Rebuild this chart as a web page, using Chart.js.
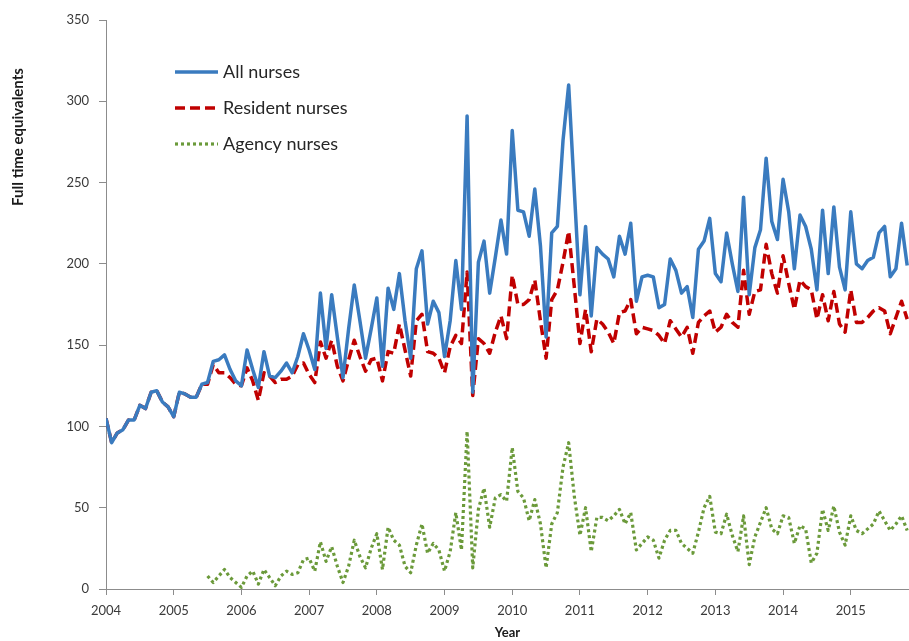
<!DOCTYPE html>
<html>
<head>
<meta charset="utf-8">
<script src="https://cdn.jsdelivr.net/npm/chart.js@4/dist/chart.umd.min.js"></script>
<style>
  html, body { margin: 0; padding: 0; background: #ffffff; }
  #wrap { width: 909px; height: 641px; position: relative; }
</style>
</head>
<body>
<div id="wrap"><canvas id="c" width="909" height="641"></canvas></div>
<script>
// ---- Data (monthly, starting January 2004) ----
const startYear = 2004;
const yearTicks = [2004, 2005, 2006, 2007, 2008, 2009, 2010, 2011, 2012, 2013, 2014, 2015];
const seriesNames = ["All nurses", "Resident nurses", "Agency nurses"];

const allNurses = [
  105, 90, 96, 98, 104, 104, 113, 111, 121, 122, 115, 112,   // 2004
  106, 121, 120, 118, 118, 126, 127, 140, 141, 144, 135, 128, // 2005
  125, 147, 135, 124, 146, 131, 130, 134, 139, 133, 143, 157, // 2006
  147, 135, 182, 148, 181, 155, 130, 160, 187, 165, 142, 160, // 2007
  179, 137, 185, 172, 194, 165, 142, 197, 208, 163, 177, 170, // 2008
  143, 165, 202, 172, 291, 121, 201, 214, 182, 204, 227, 206, // 2009
  282, 233, 232, 217, 246, 211, 155, 219, 223, 276, 310, 245, // 2010
  181, 223, 168, 210, 206, 203, 192, 217, 206, 225, 177, 192, // 2011
  193, 192, 173, 175, 203, 196, 182, 186, 167, 209, 214, 228, // 2012
  194, 189, 219, 200, 183, 241, 181, 210, 221, 265, 226, 215, // 2013
  252, 232, 197, 230, 223, 209, 184, 233, 194, 235, 198, 184, // 2014
  232, 200, 197, 202, 204, 219, 223, 192, 197, 225, 199       // 2015
];

const residentNurses = [
  105, 90, 96, 98, 104, 104, 113, 111, 121, 122, 115, 112,   // 2004
  106, 121, 120, 118, 118, 126, 126, 138, 133, 133, 130, 126, // 2005
  125, 136, 128, 116, 133, 131, 127, 129, 129, 131, 138, 139, // 2006
  132, 127, 152, 142, 153, 137, 128, 141, 153, 143, 134, 141, // 2007
  142, 128, 146, 145, 163, 147, 131, 165, 169, 146, 145, 142, // 2008
  133, 149, 156, 151, 195, 119, 154, 151, 145, 158, 168, 154, // 2009
  193, 175, 175, 178, 190, 165, 142, 178, 184, 201, 220, 186, // 2010
  151, 172, 146, 166, 163, 158, 151, 170, 171, 178, 157, 161, // 2011
  160, 159, 156, 151, 165, 160, 155, 161, 145, 164, 168, 171, // 2012
  158, 161, 169, 164, 161, 196, 169, 183, 184, 212, 194, 182, // 2013
  205, 188, 172, 190, 186, 184, 166, 181, 165, 183, 163, 158, // 2014
  184, 164, 164, 167, 171, 173, 171, 157, 167, 177, 166       // 2015
];

const agencyNurses = [
  null, null, null, null, null, null, null, null, null, null, null, null, // 2004
  null, null, null, null, null, null, 8, 4, 8, 12, 7, 4,                  // 2005
  1, 8, 11, 3, 12, 7, 2, 8, 11, 9, 10, 18,     // 2006
  19, 11, 29, 17, 26, 14, 4, 14, 30, 20, 13, 25, // 2007
  34, 12, 38, 30, 27, 14, 10, 27, 40, 22, 28, 24, // 2008
  11, 23, 47, 24, 97, 13, 49, 62, 38, 56, 58, 54, // 2009
  87, 60, 56, 42, 55, 40, 13, 40, 47, 75, 90, 57, // 2010
  33, 50, 23, 44, 44, 42, 45, 49, 40, 47, 24, 28, // 2011
  32, 30, 19, 30, 36, 36, 28, 25, 22, 35, 50, 57, // 2012
  35, 34, 46, 33, 23, 45, 15, 32, 41, 50, 37, 34, // 2013
  45, 44, 28, 39, 37, 16, 22, 49, 36, 51, 35, 27, // 2014
  45, 36, 34, 37, 40, 48, 42, 36, 40, 45, 36      // 2015
];

// ---- Build library structures ----
function toPoints(arr) {
  return arr.map((v, i) => ({ x: startYear + i / 12, y: v }));
}

const styles = [
  { color: "#3a7bbf", width: 3.5, dash: [] },
  { color: "#c00000", width: 3.5, dash: [10, 5] },
  { color: "#6b9a3a", width: 3.2, dash: [3, 3] }
];
const seriesData = [allNurses, residentNurses, agencyNurses];

const datasets = seriesData.map((arr, k) => ({
  label: seriesNames[k],
  data: toPoints(arr),
  borderColor: styles[k].color,
  backgroundColor: styles[k].color,
  borderWidth: styles[k].width,
  borderDash: styles[k].dash,
  borderJoinStyle: "round",
  pointRadius: 0,
  pointHoverRadius: 0,
  tension: 0,
  fill: false,
  spanGaps: false,
  order: k
}));

const FONT = "Lato, 'Open Sans', 'Liberation Sans', sans-serif";
const AXIS_COLOR = "#8c8c8c";
const TEXT_COLOR = "#3a3a3a";

const legendPlugin = {
  id: "insideLegend",
  afterDatasetsDraw(chart) {
    const ctx = chart.ctx;
    const x0 = 175, x1 = 218, tx = 223;
    const rows = [72, 108, 144];
    ctx.save();
    seriesNames.forEach((name, k) => {
      const y = rows[k];
      ctx.beginPath();
      ctx.setLineDash(styles[k].dash);
      ctx.lineWidth = styles[k].width;
      ctx.strokeStyle = styles[k].color;
      ctx.moveTo(x0, y);
      ctx.lineTo(x1, y);
      ctx.stroke();
      ctx.setLineDash([]);
      ctx.fillStyle = "#262626";
      ctx.font = "18px " + FONT;
      ctx.textAlign = "left";
      ctx.textBaseline = "middle";
      ctx.fillText(name, tx, y);
    });
    ctx.restore();
  }
};

const yTitlePlugin = {
  id: "yTitle",
  afterDraw(chart) {
    const ctx = chart.ctx;
    ctx.save();
    ctx.translate(18, 137);
    ctx.rotate(-Math.PI / 2);
    ctx.font = "bold 15px " + FONT;
    ctx.fillStyle = "#1a1a1a";
    ctx.textAlign = "center";
    ctx.textBaseline = "middle";
    ctx.fillText("Full time equivalents", 0, 0);
    ctx.restore();
  }
};

new Chart(document.getElementById("c"), {
  type: "line",
  data: { datasets },
  options: {
    responsive: false,
    animation: false,
    events: [],
    layout: { padding: { top: 20, right: 0, left: 0, bottom: 0 } },
    plugins: {
      legend: { display: false },
      tooltip: { enabled: false },
      title: { display: false }
    },
    scales: {
      x: {
        type: "linear",
        min: startYear,
        max: 2015.86,
        afterBuildTicks(scale) {
          scale.ticks = yearTicks.map(v => ({ value: v }));
        },
        afterFit(scale) { scale.height = 52; },
        ticks: {
          stepSize: 1,
          autoSkip: false,
          maxRotation: 0,
          padding: 8,
          color: TEXT_COLOR,
          font: { family: FONT, size: 13 },
          callback: v => String(v)
        },
        grid: {
          display: true,
          drawOnChartArea: false,
          drawTicks: true,
          tickLength: 6,
          color: AXIS_COLOR
        },
        border: { display: true, color: AXIS_COLOR, width: 1 },
        title: {
          display: true,
          text: "Year",
          color: "#1a1a1a",
          font: { family: FONT, size: 13, weight: "bold" },
          padding: { top: 0, bottom: 0 }
        }
      },
      y: {
        min: 0,
        max: 350,
        afterFit(scale) { scale.width = 106; },
        ticks: {
          stepSize: 50,
          padding: 10,
          color: TEXT_COLOR,
          font: { family: FONT, size: 13 }
        },
        grid: {
          display: true,
          drawOnChartArea: false,
          drawTicks: true,
          tickLength: 7,
          color: AXIS_COLOR
        },
        border: { display: true, color: AXIS_COLOR, width: 1 }
      }
    }
  },
  plugins: [legendPlugin, yTitlePlugin]
});
</script>
</body>
</html>
